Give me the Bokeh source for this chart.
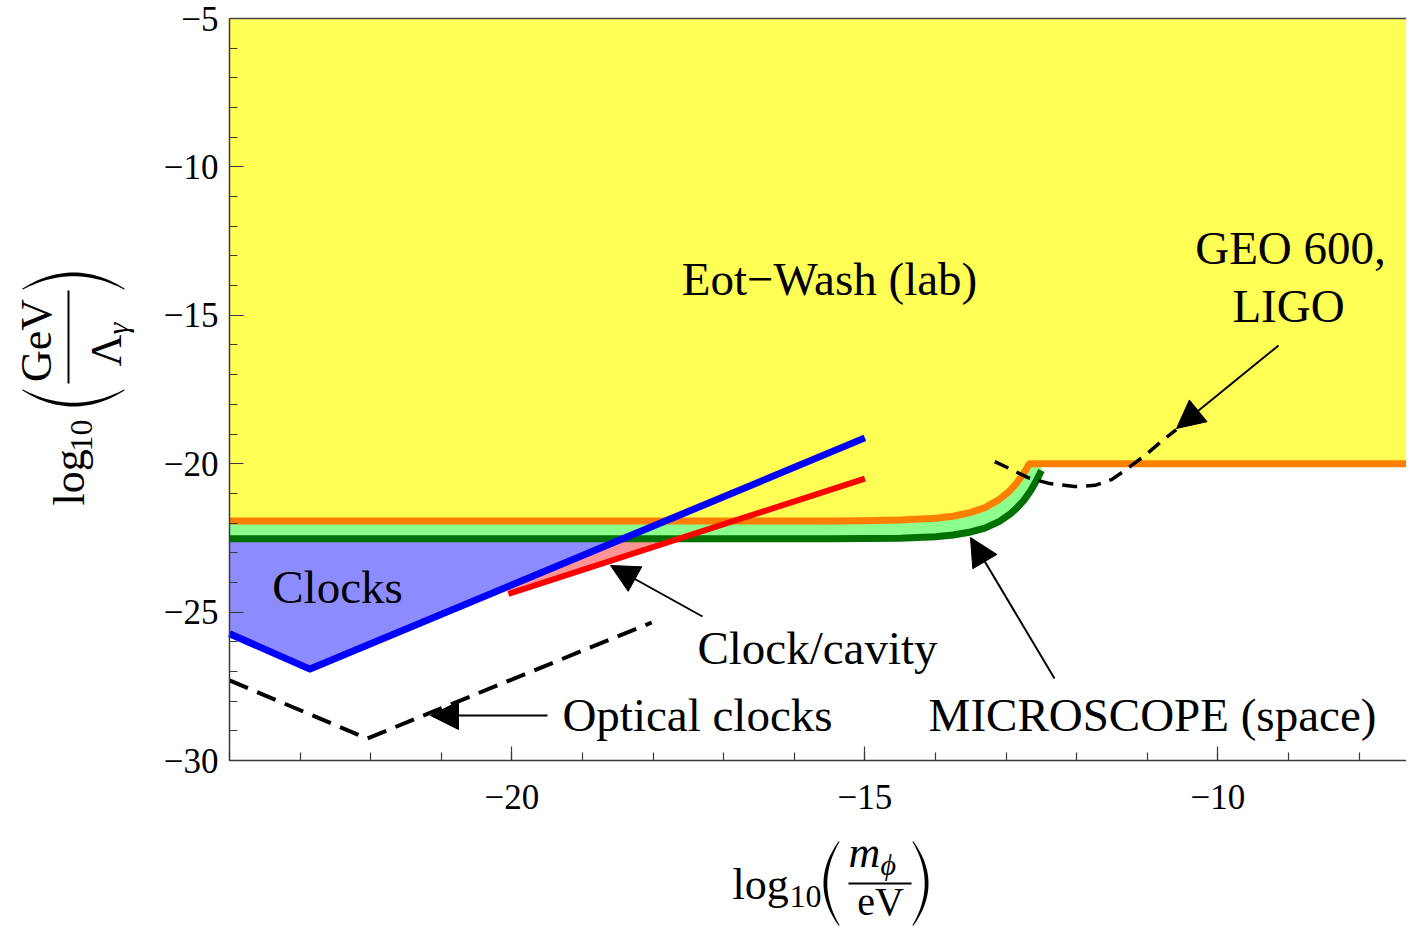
import numpy as np
from bokeh.plotting import figure
from bokeh.models import FixedTicker, Label, Arrow, NormalHead, PolyAnnotation
from bokeh.embed import file_html
from bokeh.resources import INLINE

# ---------------- data ----------------
eotwash_x = [-24.0, -15.5, -15.0, -14.5, -14.0, -13.75, -13.5, -13.3, -13.1,
             -12.95, -12.85, -12.75, -12.67, -7.0]
eotwash_y = [-21.93, -21.93, -21.92, -21.90, -21.84, -21.77, -21.64, -21.48,
             -21.21, -20.92, -20.65, -20.32, -20.0, -20.0]

microscope_x = [-24.0, -15.5, -15.0, -14.5, -14.0, -13.75, -13.5, -13.3, -13.1,
                -12.95, -12.85, -12.75, -12.65, -12.57, -12.5]
microscope_y = [-22.53, -22.53, -22.52, -22.51, -22.46, -22.40, -22.30, -22.17,
                -21.95, -21.71, -21.50, -21.24, -20.90, -20.57, -20.23]

clocks_x = [-24.0, -22.86, -15.0]
clocks_y = [-25.73, -26.92, -19.13]

cavity_x = [-20.05, -15.0]
cavity_y = [-24.39, -20.50]

optical_x = [-24.0, -22.05, -18.02]
optical_y = [-27.30, -29.26, -25.35]

geo_x = [-13.16, -12.92, -12.69, -12.38, -12.03, -11.74, -11.50, -11.32,
         -11.03, -10.82, -10.59]
geo_y = [-19.93, -20.20, -20.47, -20.67, -20.77, -20.73, -20.53, -20.23,
         -19.72, -19.29, -18.85]

x_ticks = [-20, -15, -10]
x_tick_labels = ["\u221220", "\u221215", "\u221210"]
y_ticks = [-30, -25, -20, -15, -10, -5]
y_tick_labels = ["\u221230", "\u221225", "\u221220", "\u221215", "\u221210", "\u22125"]

# ---------------- layout ----------------
W, H = 1406, 926
FL, FT, FB = 229, 18, 760        # data-region edges in canvas pixels
XD0 = -24.0                      # data x at left edge of data region
YD0, YD1 = -30.0, -5.0
SX = 70.6
SY = (FB - FT) / (YD1 - YD0)
XS = XD0 - FL / SX               # canvas left
XE = XD0 + (W - FL) / SX         # canvas right
YT = YD1 + FT / SY               # canvas top
YB = YD0 - (H - FB) / SY         # canvas bottom


def dx(px):
    return XS + px / SX


def dy(py):
    return YT - py / SY


FONT = "Liberation Serif"
BASE_FIX = 0.37   # label baseline correction (fraction of font size)

p = figure(width=W, height=H, x_range=(XS, XE), y_range=(YB, YT),
           output_backend="svg", toolbar_location=None,
           min_border_left=0, min_border_right=0, min_border_top=0,
           min_border_bottom=0)
p.title.visible = False
p.xgrid.visible = False
p.ygrid.visible = False
p.outline_line_color = None
p.background_fill_color = "white"
p.border_fill_color = "white"

# ---------------- regions ----------------
g_level = microscope_y[0]
plateau = eotwash_y[-1]

p.patch(microscope_x + [microscope_x[-1], microscope_x[0]],
        microscope_y + [plateau, plateau],
        fill_color="#8cff8c", line_color=None)

p.varea(x=eotwash_x, y1=eotwash_y, y2=[YD1] * len(eotwash_x),
        fill_color="#ffff55")

m_c = (cavity_y[1] - cavity_y[0]) / (cavity_x[1] - cavity_x[0])
xr = cavity_x[0] + (g_level - cavity_y[0]) / m_c
p.patch([cavity_x[0], xr, cavity_x[0]], [cavity_y[0], g_level, g_level],
        fill_color="#ff9494", line_color=None)

m_b = (clocks_y[2] - clocks_y[1]) / (clocks_x[2] - clocks_x[1])
xi = clocks_x[1] + (g_level - clocks_y[1]) / m_b
p.patch([clocks_x[0], xi, clocks_x[1], clocks_x[0]],
        [g_level, g_level, clocks_y[1], clocks_y[0]],
        fill_color="#8c8cff", line_color=None)

# ---------------- lines ----------------
p.line(eotwash_x, eotwash_y, line_color="#ff8000", line_width=7, line_join="round")
p.line(microscope_x, microscope_y, line_color="#007000", line_width=7, line_join="round")
p.line(cavity_x, cavity_y, line_color="#ff0000", line_width=6)
p.line(clocks_x, clocks_y, line_color="#0000ff", line_width=7, line_join="round")
p.line(optical_x, optical_y, line_color="black", line_width=4, line_dash="20 10")
p.line(geo_x, geo_y, line_color="black", line_width=3.5, line_dash="15 9")


def seg(x_a, y_a, x_b, y_b, color="black", width=2.0):
    p.add_layout(Arrow(end=None, x_start=x_a, y_start=y_a, x_end=x_b, y_end=y_b,
                       line_color=color, line_width=width))


# top border of the plot box
seg(XD0, YD1, XE, YD1, color="#444444", width=1.5)

# ---------------- arrows ----------------
arrows = [((1278, 345), (1176, 428)),
          ((702, 616), (610, 565)),
          ((547, 715), (430, 715)),
          ((1054, 678), (970, 537))]
for (tx, ty), (hx, hy) in arrows:
    p.add_layout(Arrow(end=NormalHead(size=28, fill_color="black", line_color="black"),
                       x_start=dx(tx), y_start=dy(ty), x_end=dx(hx), y_end=dy(hy),
                       line_color="black", line_width=2))


def lab(text, px, py, size, align="left", angle=0.0, italic=False):
    # px, py: desired baseline anchor in canvas pixels
    if angle == 0.0:
        py = py - BASE_FIX * size
    else:
        px = px - BASE_FIX * size
    p.add_layout(Label(x=dx(px), y=dy(py), text=text, text_font=FONT,
                       text_font_size=f"{size}px", text_align=align,
                       text_baseline="alphabetic", angle=angle,
                       text_font_style="italic" if italic else "normal",
                       text_color="black"))


# in-plot labels
lab("Eot\u2212Wash (lab)", 829, 296, 47, "center")
lab("GEO 600,", 1290, 265, 47, "center")
lab("LIGO", 1288, 323, 47, "center")
lab("Clocks", 337, 604, 47, "center")
lab("Clock/cavity", 817, 665, 47, "center")
lab("Optical clocks", 697, 732, 47, "center")
lab("MICROSCOPE (space)", 1152, 732, 47, "center")


# ---------------- axis labels (composed) ----------------
def crescent(cx, cy, half, depth, thick, orient, n=31):
    s = np.linspace(-1, 1, n)
    outer = depth * (1 - s ** 2)
    inner = outer - (thick * (1 - s ** 2) + 1.2)
    along = s * half
    if orient in ("left", "right"):
        sign = -1 if orient == "left" else 1
        px = np.concatenate([cx + sign * outer, (cx + sign * inner)[::-1]])
        py = np.concatenate([cy + along, (cy + along)[::-1]])
    else:
        sign = 1 if orient == "down" else -1
        py = np.concatenate([cy + sign * outer, (cy + sign * inner)[::-1]])
        px = np.concatenate([cx + along, (cx + along)[::-1]])
    return [dx(v) for v in px], [dy(v) for v in py]


def paren(*args):
    xs, ys = crescent(*args)
    p.add_layout(PolyAnnotation(xs=xs, ys=ys, fill_color="black", fill_alpha=1.0,
                                line_color=None))


def hline(x_a, y_a, x_b, y_b):
    seg(dx(x_a), dy(y_a), dx(x_b), dy(y_b))


# x label: log10( m_phi / eV )
lab("log", 732, 900, 44)
lab("10", 789, 908, 32)
paren(838, 883, 42, 15, 2.6, "left")
lab("m", 848, 868, 44, italic=True)
lab("\u03d5", 880, 875, 30, italic=True)
hline(848, 883, 911, 883)
lab("eV", 880, 916, 40, "center")
paren(913, 883, 42, 15, 2.6, "right")

# y label: log10( GeV / Lambda_gamma ), rotated
R = np.pi / 2
lab("log", 85, 505, 44, angle=R)
lab("10", 93, 451, 32, angle=R)
paren(73, 390, 51, 16, 2.6, "down")
lab("GeV", 52, 340, 44, "center", angle=R)
hline(68, 383, 68, 290)
lab("\u039b", 122, 366, 44, angle=R)
lab("\u03b3", 128, 334, 30, angle=R, italic=True)
paren(73, 288, 51, 16, 2.6, "up")

# ---------------- axes ----------------
xa = p.xaxis[0]
ya = p.yaxis[0]
xa.fixed_location = YD0
ya.fixed_location = XD0
xa.bounds = (XD0, XE)
ya.bounds = (YD0, YD1)
xa.ticker = FixedTicker(ticks=x_ticks, minor_ticks=list(range(-24, -7)))
ya.ticker = FixedTicker(ticks=y_ticks, minor_ticks=list(range(-30, -4)))
xa.major_label_overrides = dict(zip(x_ticks, x_tick_labels))
ya.major_label_overrides = dict(zip(y_ticks, y_tick_labels))
for ax in (xa, ya):
    ax.axis_line_color = "#3a3a3a"
    ax.axis_line_width = 1.5
    ax.major_tick_line_color = "#3a3a3a"
    ax.minor_tick_line_color = "#3a3a3a"
    ax.major_tick_line_width = 1.2
    ax.minor_tick_line_width = 1.2
    ax.major_tick_in = 14
    ax.major_tick_out = 0
    ax.minor_tick_in = 8
    ax.minor_tick_out = 0
    ax.major_label_text_font = FONT
    ax.major_label_text_font_size = "35px"
    ax.major_label_text_color = "black"
xa.major_label_standoff = 24
ya.major_label_standoff = 11

open("out.html", "w").write(file_html(p, INLINE))
